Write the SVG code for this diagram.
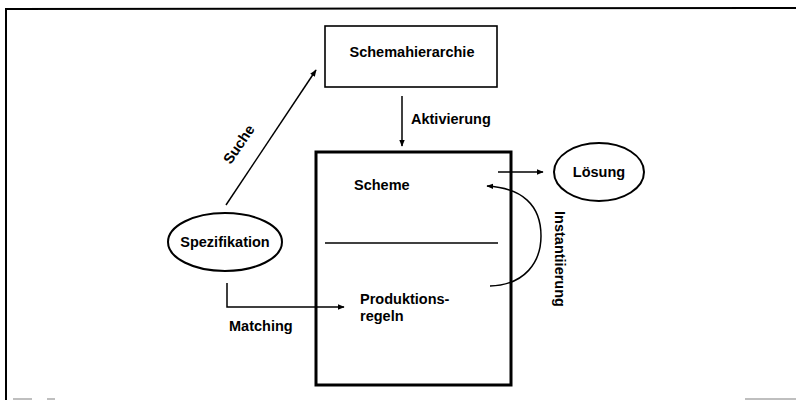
<svg xmlns="http://www.w3.org/2000/svg" width="796" height="400" viewBox="0 0 796 400">
<defs>
<marker id="ah" viewBox="0 0 10 10" refX="9" refY="5" markerWidth="7" markerHeight="7" orient="auto" markerUnits="userSpaceOnUse">
<path d="M0 1 L10 5 L0 9 Z" fill="#000"/>
</marker>
</defs>
<style>
text{font-family:"Liberation Sans",Arial,sans-serif;font-weight:bold;font-size:14.5px;fill:#000}
.c{fill:none;stroke:#000;stroke-width:1.5}
.a{marker-end:url(#ah)}
</style>
<rect width="796" height="400" fill="#fff"/>
<g id="frame" fill="none" stroke="#000">
<path d="M6 9 L796 8" stroke-width="2"/>
<path d="M6 8 L6 400" stroke-width="2"/>
<path d="M13 399 L32 399 M47 399 L55 399 M745 399 L796 399" stroke="#aaa" stroke-width="1.5"/>
</g>
<g id="schemahierarchie">
<rect x="325" y="26" width="172" height="61" fill="none" stroke="#000" stroke-width="1.6"/>
<text x="412" y="57" text-anchor="middle">Schemahierarchie</text>
</g>
<g id="hauptbox">
<rect x="316" y="152" width="195" height="233" fill="none" stroke="#000" stroke-width="3"/>
<line x1="325" y1="243" x2="498" y2="243" stroke="#000" stroke-width="1.5"/>
<text x="354" y="190">Scheme</text>
<text x="360" y="304">Produktions-</text>
<text x="360" y="321">regeln</text>
</g>
<g id="loesung">
<ellipse cx="599" cy="172" rx="45" ry="29" fill="none" stroke="#000" stroke-width="2"/>
<text x="599" y="177" text-anchor="middle">Lösung</text>
</g>
<g id="spezifikation">
<ellipse cx="225" cy="242" rx="57" ry="29" fill="none" stroke="#000" stroke-width="2"/>
<text x="225" y="247" text-anchor="middle">Spezifikation</text>
</g>
<g id="connectors">
<line class="c a" x1="226" y1="205" x2="316" y2="70"/>
<line class="c a" x1="402" y1="96" x2="402" y2="146"/>
<line class="c a" x1="498" y1="172" x2="543" y2="172"/>
<path class="c a" d="M490 286 C525 285 541 262 541 236 C541 205 522 188 487 186"/>
<path class="c a" d="M227 283 L227 307 L344 307"/>
<text x="243" y="147" text-anchor="middle" transform="rotate(-56 243 147)">Suche</text>
<text x="411" y="124">Aktivierung</text>
<text x="229" y="331">Matching</text>
<text x="0" y="0" text-anchor="middle" transform="translate(555 259) rotate(90)">Instantiierung</text>
</g>
</svg>
